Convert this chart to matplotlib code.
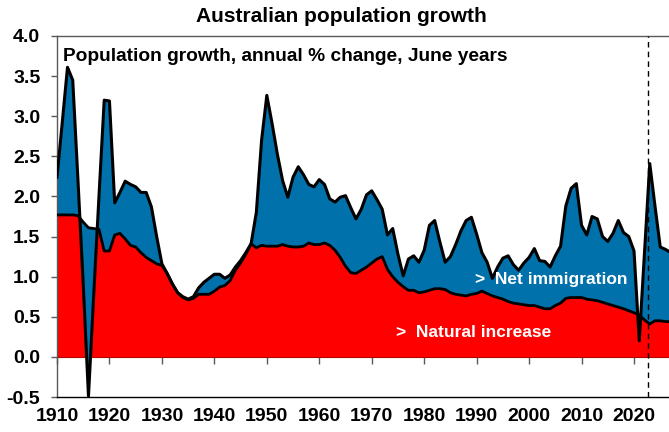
import matplotlib
matplotlib.use("Agg")
import matplotlib.pyplot as plt
import numpy as np

plt.rcParams['font.family'] = ['Liberation Sans', 'DejaVu Sans']
plt.rcParams['font.weight'] = 'bold'

years = list(range(1910, 2028))

total_growth = [
    2.24, 2.92, 3.61, 3.45, 2.20, 0.90, -0.49, 0.77, 2.00, 3.20,   # 1910-1919
    3.19, 1.92, 2.05, 2.19, 2.15, 2.12, 2.05, 2.05, 1.87, 1.50,    # 1920-1929
    1.16, 1.04, 0.91, 0.80, 0.75, 0.72, 0.75, 0.86, 0.93, 0.98,    # 1930-1939
    1.03, 1.03, 0.98, 1.02, 1.12, 1.20, 1.30, 1.41, 1.80, 2.70,    # 1940-1949
    3.26, 2.91, 2.53, 2.20, 1.99, 2.24, 2.37, 2.27, 2.15, 2.12,    # 1950-1959
    2.21, 2.15, 1.97, 1.93, 1.99, 2.01, 1.86, 1.72, 1.84, 2.02,    # 1960-1969
    2.07, 1.96, 1.84, 1.52, 1.60, 1.28, 1.01, 1.22, 1.26, 1.18,    # 1970-1979
    1.33, 1.64, 1.70, 1.43, 1.18, 1.25, 1.40, 1.57, 1.70, 1.74,    # 1980-1989
    1.53, 1.30, 1.18, 0.98, 1.12, 1.23, 1.26, 1.15, 1.08, 1.17,    # 1990-1999
    1.24, 1.35, 1.20, 1.19, 1.12, 1.26, 1.38, 1.88, 2.10, 2.16,    # 2000-2009
    1.64, 1.52, 1.75, 1.72, 1.50, 1.44, 1.54, 1.70, 1.55, 1.50,    # 2010-2019
    1.32, 0.20, 1.30, 2.41, 1.88, 1.37, 1.34, 1.30,                # 2020-2027
]

natural_increase = [
    1.77, 1.77, 1.77, 1.77, 1.76, 1.68, 1.61, 1.60, 1.59, 1.32,    # 1910-1919
    1.32, 1.52, 1.54, 1.47, 1.39, 1.37, 1.30, 1.24, 1.20, 1.16,    # 1920-1929
    1.14, 1.04, 0.91, 0.80, 0.74, 0.71, 0.73, 0.78, 0.78, 0.78,    # 1930-1939
    0.82, 0.87, 0.89, 0.95, 1.08, 1.17, 1.28, 1.41, 1.36, 1.39,    # 1940-1949
    1.38, 1.38, 1.38, 1.40, 1.38, 1.37, 1.37, 1.38, 1.42, 1.40,    # 1950-1959
    1.40, 1.42, 1.39, 1.33, 1.24, 1.13, 1.05, 1.04, 1.08, 1.12,    # 1960-1969
    1.17, 1.22, 1.25, 1.09, 1.00, 0.93, 0.875, 0.83, 0.83, 0.80,   # 1970-1979
    0.81, 0.83, 0.85, 0.85, 0.84, 0.80, 0.78, 0.77, 0.76, 0.78,    # 1980-1989
    0.79, 0.82, 0.79, 0.76, 0.74, 0.72, 0.69, 0.67, 0.66, 0.65,    # 1990-1999
    0.64, 0.64, 0.62, 0.60, 0.60, 0.64, 0.67, 0.73, 0.74, 0.74,    # 2000-2009
    0.74, 0.72, 0.71, 0.70, 0.68, 0.66, 0.64, 0.62, 0.60, 0.575,   # 2010-2019
    0.55, 0.525, 0.46, 0.41, 0.45, 0.45, 0.44, 0.44,               # 2020-2027
]

forecast_start = 2022.75
x_ticks = list(range(1910, 2021, 10))
y_ticks = [-0.5, 0.0, 0.5, 1.0, 1.5, 2.0, 2.5, 3.0, 3.5, 4.0]

title = "Australian population growth"
subtitle = "Population growth, annual % change, June years"
label_net = ">  Net immigration"
label_nat = ">  Natural increase"

BLUE = "#0071AA"
RED = "#FF0000"
SPINE = "#595959"

yrs = np.array(years)
tot = np.array(total_growth)
nat = np.array(natural_increase)

fig = plt.figure(figsize=(6.69, 4.32), dpi=100)
ax = fig.add_axes([57/669, 35/432, 1 - 57/669, 361/432])

ax.fill_between(yrs, 0, nat, color=RED, linewidth=0, zorder=1)
ax.fill_between(yrs, nat, tot, color=BLUE, linewidth=0, zorder=2)
ax.plot(yrs, nat, color='black', lw=2.0, zorder=3, solid_joinstyle='round')
ax.plot(yrs, tot, color='black', lw=2.2, zorder=4, solid_joinstyle='round')

ax.axvline(forecast_start, color='black', lw=1.0, ls=(0, (4, 3)), zorder=5)

ax.set_xlim(1910, 2026.67)
ax.set_ylim(-0.5, 4.0)

ax.set_yticks(y_ticks)
ax.set_yticklabels([f"{v:.1f}" for v in y_ticks], fontsize=14, fontweight='bold')
ax.tick_params(axis='y', direction='out', length=4, width=1, color=SPINE, pad=8)

ax.set_xticks(x_ticks)
ax.set_xticklabels([str(v) for v in x_ticks], fontsize=14, fontweight='bold')
ax.tick_params(axis='x', length=0, pad=8)

for s in ['left', 'top', 'bottom']:
    ax.spines[s].set_color(SPINE)
    ax.spines[s].set_linewidth(1.0)
ax.spines['bottom'].set_color('black')
ax.spines['right'].set_visible(False)

# category axis crossing at zero with tick marks
sec = ax.secondary_xaxis(0, transform=ax.transData)
sec.set_xticks(x_ticks)
sec.set_xticklabels([])
sec.tick_params(axis='x', direction='out', length=5, width=1, color=SPINE)
sec.spines['bottom'].set_color('#8B0000')
sec.spines['bottom'].set_linewidth(0.8)

ax.text(1911.2, 3.75, subtitle, fontsize=13.8, fontweight='bold', color='black',
        ha='left', va='center', zorder=6)
ax.text(1989.6, 0.96, label_net, fontsize=12.5, fontweight='bold', color='white',
        ha='left', va='center', zorder=6)
ax.text(1974.6, 0.30, label_nat, fontsize=12.5, fontweight='bold', color='white',
        ha='left', va='center', zorder=6)

fig.text(341/669, 1 - 17/432, title, fontsize=15, fontweight='bold',
         ha='center', va='center')

fig.savefig("out.png", dpi=100)
